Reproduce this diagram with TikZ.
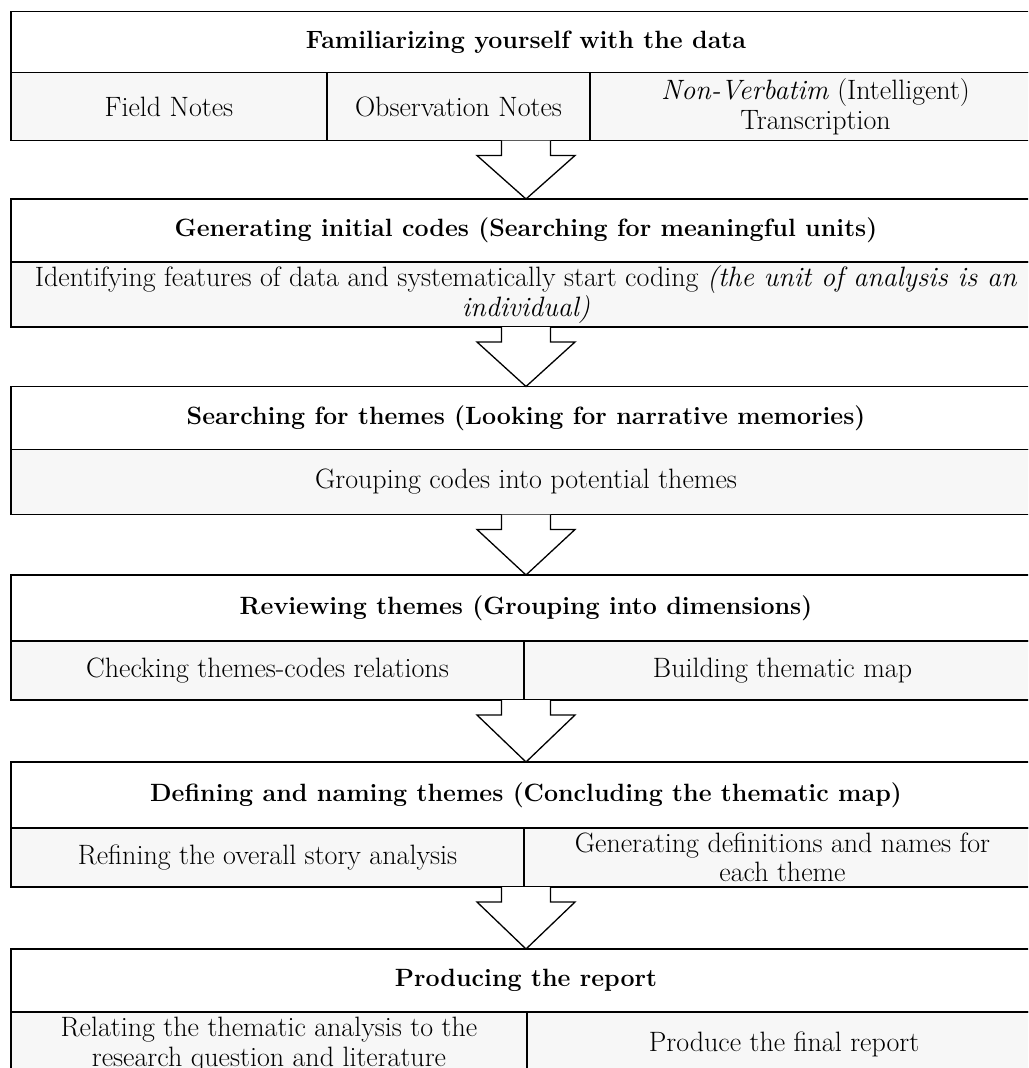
\documentclass[tikz,border=0pt]{standalone}
\usetikzlibrary{positioning,calc}

\tikzset{
  stagehead/.style={draw,line width=1.3pt,fill=white,minimum width=1030pt,
    minimum height=63pt,inner sep=0pt,outer sep=0pt,
    font=\fontsize{25}{29}\selectfont\bfseries},
  stagesub/.style={draw,line width=1.3pt,fill=black!3,minimum height=65pt,
    inner sep=0pt,outer sep=0pt,align=center,
    font=\fontsize{28}{29.5}\selectfont},
  fatarrow/.style={draw,line width=1.3pt,fill=white,line join=miter,
    to path={($(\tikztostart)+(-24.5,0)$) -- ++(0,-15) -- ++(-24.5,0)
      -- (\tikztotarget) -- ($(\tikztostart)+(49,-15)$) -- ++(-24.5,0)
      -- ++(0,15)}}
}

\begin{document}
\begin{tikzpicture}[x=1pt,y=1pt]
  \useasboundingbox (0,0) rectangle (1028,-1068);
  \clip (0,0) rectangle (1028,-1068);

  % stage 1
  \node[stagehead,minimum height=61pt] (h1) at (526,-42) {Familiarizing yourself with the data};
  \node[stagesub,anchor=north west,minimum width=316pt,minimum height=68pt] (s1a) at (h1.south west) {Field Notes};
  \node[stagesub,right=0pt of s1a,minimum width=263pt,minimum height=68pt] (s1b) {Observation Notes};
  \node[stagesub,right=0pt of s1b,minimum width=451pt,minimum height=68pt] (s1c)
    {\textit{Non-Verbatim} (Intelligent)\\Transcription};

  % stage 2
  \node[stagehead] (h2) at (526,-230.5) {Generating initial codes (Searching for meaningful units)};
  \node[stagesub,anchor=north west,minimum width=1030pt] (s2a) at (h2.south west)
    {Identifying features of data and systematically start coding \textit{(the unit of analysis is an}\\\textit{individual)}};

  % stage 3
  \node[stagehead] (h3) at (526,-418) {Searching for themes (Looking for narrative memories)};
  \node[stagesub,anchor=north west,minimum width=1030pt] (s3a) at (h3.south west) {Grouping codes into potential themes};

  % stage 4
  \node[stagehead,minimum height=66pt] (h4) at (526,-608) {Reviewing themes (Grouping into dimensions)};
  \node[stagesub,anchor=north west,minimum width=513pt,minimum height=59pt] (s4a) at (h4.south west) {Checking themes-codes relations};
  \node[stagesub,right=0pt of s4a,minimum width=517pt,minimum height=59pt] (s4b) {Building thematic map};

  % stage 5
  \node[stagehead,minimum height=66pt] (h5) at (526,-795) {Defining and naming themes (Concluding the thematic map)};
  \node[stagesub,anchor=north west,minimum width=513pt,minimum height=59pt] (s5a) at (h5.south west) {Refining the overall story analysis};
  \node[stagesub,right=0pt of s5a,minimum width=517pt,minimum height=59pt] (s5b)
    {Generating definitions and names for\\each theme};

  % stage 6
  \node[stagehead] (h6) at (526,-980.5) {Producing the report};
  \node[stagesub,anchor=north west,minimum width=516pt] (s6a) at (h6.south west)
    {Relating the thematic analysis to the\\research question and literature};
  \node[stagesub,right=0pt of s6a,minimum width=514pt] (s6b) {Produce the final report};

  % block arrows between stages
  \foreach \i/\j in {1/2,2/3,3/4,4/5,5/6}
    \draw[fatarrow] (h\i |- s\i a.south) to (h\j.north);
\end{tikzpicture}
\end{document}
